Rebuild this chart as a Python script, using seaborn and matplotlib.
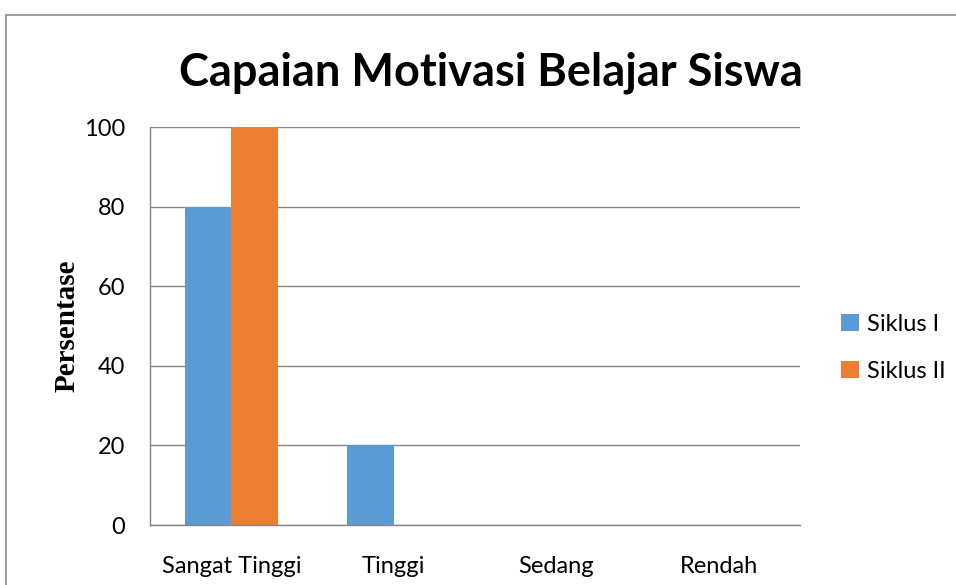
import pandas as pd
import numpy as np
from matplotlib import pyplot as plt
from matplotlib.patches import Rectangle
import seaborn as sns

categories = ['Sangat Tinggi', 'Tinggi', 'Sedang', 'Rendah']
siklus_1 = [80, 20, 0, 0]
siklus_2 = [100, 0, 0, 0]
series_names = ['Siklus I', 'Siklus II']
colors = ['#5B9BD5', '#ED7D31']

df = pd.DataFrame({
    'Kategori': categories * 2,
    'Persentase': siklus_1 + siklus_2,
    'Siklus': [series_names[0]] * 4 + [series_names[1]] * 4,
})

sns.set_style('white')
plt.rcParams['font.family'] = ['Lato', 'DejaVu Sans']
plt.rcParams['text.color'] = 'black'
plt.rcParams['xtick.labelcolor'] = 'black'
plt.rcParams['ytick.labelcolor'] = 'black'
plt.rcParams['axes.labelcolor'] = 'black'

fig = plt.figure(figsize=(9.56, 5.85), dpi=100)
ax = fig.add_axes([150 / 956, 1 - 525 / 585, 650 / 956, 398 / 585])

sns.barplot(data=df, x='Kategori', y='Persentase', hue='Siklus',
            palette=colors, width=0.57, saturation=1, ax=ax, legend=True,
            linewidth=0, edgecolor='none')

ax.set_ylim(0, 100)
ax.set_xlim(-0.5, 3.5)
ax.set_yticks([0, 20, 40, 60, 80, 100])
ax.yaxis.grid(True, color='#868686', lw=1)
ax.set_axisbelow(True)
for s in ['top', 'right']:
    ax.spines[s].set_visible(False)
for s in ['left', 'bottom']:
    ax.spines[s].set_color('#868686')
    ax.spines[s].set_linewidth(1)
ax.tick_params(axis='y', length=7, color='#868686', labelsize=17, pad=11)
ax.tick_params(axis='x', length=0, labelsize=17, pad=22)
ax.set_xticks(np.arange(-0.5, 4, 1), minor=True)
ax.tick_params(axis='x', which='minor', length=7, color='#868686')
ax.set_xlabel('')
ax.set_ylabel('Persentase', family='Liberation Serif', fontweight='bold',
              fontsize=21, labelpad=2)

fig.text(491 / 956, 1 - 73 / 585, 'Capaian Motivasi Belajar Siswa',
         ha='center', va='center', fontsize=32.5, fontweight='bold',
         color='black')

leg = ax.legend(loc='center left', bbox_to_anchor=(1.031, 0.445), frameon=False,
                fontsize=17, handlelength=0.75, handleheight=0.75,
                handletextpad=0.35, labelspacing=1.1)

fig.patches.append(Rectangle((6 / 956, -0.05), 1.0, 1 - 15 / 585 + 0.05,
                             transform=fig.transFigure, fill=False,
                             edgecolor='#8c8c8c', lw=1.2))

plt.savefig('out.png', dpi=100)
